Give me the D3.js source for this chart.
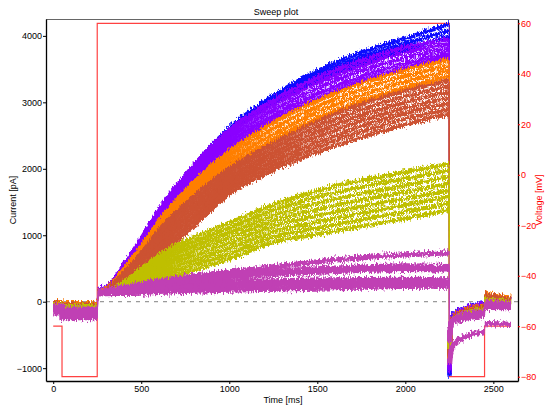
<!DOCTYPE html>
<html><head><meta charset="utf-8">
<script src="https://cdn.jsdelivr.net/npm/d3@7"></script>
<style>
body{margin:0;background:#fff}
svg{display:block}
text{font-family:"Liberation Sans",Arial,sans-serif}
</style>
</head><body>
<svg id="c" width="547" height="405"></svg>
<script>
// ---------- data ----------
const stepTimes = [255, 300, 350, 400, 500, 600, 750, 1000, 1250, 1500, 1750, 2000, 2250];
const preTimes  = [0, 50, 250];
const tailTimes = [2251, 2262, 2290, 2450];
const postTimes = [2452, 2475, 2600];
const protoTimes = [0, 50, 250, 2250, 2450, 2600];
const protoVolts = [-60, -80, 60, -80, -60, -60];
const currentTicks = [-1000, 0, 1000, 2000, 3000, 4000];
const voltTicks = [-80, -60, -40, -20, 0, 20, 40, 60];
const timeTicks = [0, 500, 1000, 1500, 2000, 2500];

const blueStep = [
  [190, 220, 345, 535, 925, 1355, 1885, 2610, 3100, 3470, 3750, 3960, 4180],
  [185, 215, 338, 522, 900, 1325, 1845, 2565, 3050, 3410, 3680, 3880, 4080],
  [180, 210, 330, 510, 878, 1295, 1805, 2520, 3000, 3350, 3610, 3800, 3990]];
const purpleStep = [
  [190, 222, 355, 552, 948, 1382, 1900, 2590, 3030, 3370, 3630, 3830, 3950],
  [186, 218, 348, 538, 922, 1348, 1852, 2522, 2955, 3290, 3550, 3750, 3880],
  [182, 214, 340, 524, 897, 1313, 1803, 2455, 2880, 3210, 3470, 3670, 3810],
  [178, 210, 333, 510, 872, 1278, 1754, 2388, 2805, 3130, 3390, 3590, 3740],
  [174, 206, 325, 496, 847, 1243, 1705, 2320, 2740, 3060, 3320, 3520, 3690]];
const orangeStep = [
  [170, 204, 320, 485, 828, 1212, 1665, 2260, 2690, 3020, 3280, 3480, 3640],
  [167, 200, 312, 470, 803, 1177, 1615, 2190, 2605, 2935, 3195, 3395, 3560],
  [164, 196, 304, 455, 778, 1142, 1565, 2120, 2520, 2850, 3110, 3310, 3480],
  [161, 192, 296, 440, 753, 1107, 1515, 2050, 2440, 2765, 3025, 3225, 3400]];
const brownStep = [
  [162, 192, 292, 432, 725, 1075, 1470, 2000, 2380, 2710, 2970, 3170, 3330],
  [160, 189, 282, 412, 685, 1012, 1397, 1937, 2312, 2632, 2887, 3087, 3240],
  [158, 186, 272, 392, 645, 950, 1323, 1873, 2245, 2555, 2805, 3003, 3155],
  [156, 182, 262, 372, 605, 888, 1250, 1810, 2180, 2478, 2722, 2920, 3070],
  [154, 178, 252, 352, 565, 826, 1175, 1746, 2112, 2400, 2640, 2838, 2985],
  [152, 175, 242, 332, 523, 763, 1100, 1683, 2046, 2325, 2557, 2753, 2900],
  [150, 172, 233, 313, 483, 702, 1025, 1620, 1980, 2250, 2475, 2665, 2830]];
const oliveStep = [
  [138, 157, 205, 290, 500, 695, 915, 1185, 1455, 1670, 1825, 1950, 2075],
  [136, 153, 198, 275, 466, 644, 848, 1108, 1375, 1576, 1726, 1850, 1976],
  [133, 150, 191, 261, 432, 592, 780, 1032, 1295, 1482, 1628, 1750, 1876],
  [131, 146, 184, 246, 398, 541, 712, 955, 1215, 1388, 1530, 1651, 1777],
  [129, 143, 176, 232, 364, 489, 645, 878, 1135, 1295, 1431, 1552, 1678],
  [127, 139, 169, 217, 330, 438, 577, 800, 1055, 1200, 1333, 1453, 1579],
  [124, 136, 162, 203, 296, 386, 509, 722, 975, 1107, 1234, 1354, 1479],
  [122, 132, 155, 188, 262, 335, 440, 645, 895, 1015, 1135, 1255, 1380]];
const magentaStep = [
  [160, 175, 195, 220, 270, 310, 370, 450, 525, 600, 660, 705, 735],
  [150, 165, 180, 205, 245, 285, 335, 400, 455, 495, 520, 540, 530],
  [145, 158, 172, 192, 230, 265, 310, 365, 410, 445, 470, 485, 480],
  [138, 150, 162, 178, 205, 230, 260, 295, 315, 325, 332, 336, 330],
  [130, 138, 145, 152, 170, 190, 215, 245, 262, 272, 280, 286, 280],
  [118, 122, 125, 126, 130, 140, 155, 175, 190, 205, 218, 230, 235]];

const bluePre = [[-15, -30], [-20, -35], [-20, -35]];
const purplePre = [[-15, -30], [-20, -35], [-25, -40], [-20, -38], [-25, -42]];
const orangePre = [[-5, -20], [-10, -25], [-10, -28], [-15, -30]];
const brownPre = [[-25, -45], [-25, -48], [-30, -50], [-30, -52], [-35, -55], [-35, -58], [-40, -60]];
const olivePre = [[-40, -65], [-45, -70], [-45, -72], [-50, -75], [-50, -78], [-55, -80], [-55, -82], [-60, -85]];
const magentaPre = [[-70, -110], [-90, -130], [-110, -160], [-130, -190], [-150, -215], [-170, -240]];

const blueTail = [[-1130, -230, -150, -20], [-1100, -240, -160, -30], [-1080, -245, -165, -35]];
const purpleTail = [[-1050, -240, -160, -30], [-1020, -245, -168, -40], [-1000, -250, -175, -45], [-980, -255, -180, -50], [-960, -260, -185, -55]];
const orangeTail = [[-900, -260, -185, -60], [-880, -265, -190, -65], [-860, -270, -195, -70], [-840, -275, -200, -75]];
const brownTail = [[-820, -270, -195, -70], [-800, -273, -200, -77], [-785, -276, -205, -84], [-770, -280, -210, -90], [-755, -283, -215, -97], [-740, -286, -220, -104], [-720, -290, -225, -110]];
const oliveTail = [[-700, -285, -220, -110], [-690, -287, -224, -115], [-675, -289, -228, -121], [-660, -291, -232, -127], [-645, -293, -236, -133], [-630, -295, -240, -139], [-615, -298, -245, -145], [-600, -300, -250, -150]];
const magentaTail = [[-940, -720, -600, -450], [-600, -290, -230, -140], [-560, -300, -245, -160], [-520, -310, -260, -175], [-480, -320, -275, -190], [-450, -330, -290, -205]];

const bluePost = [[110, 80, 40], [105, 75, 35], [100, 70, 30]];
const purplePost = [[120, 90, 45], [115, 85, 40], [110, 80, 35], [105, 75, 30], [100, 70, 25]];
const orangePost = [[145, 110, 60], [140, 105, 55], [135, 100, 50], [130, 95, 45]];
const brownPost = [[120, 90, 40], [110, 82, 32], [100, 75, 25], [90, 68, 18], [80, 60, 10], [70, 52, 2], [60, 45, -5]];
const olivePost = [[50, 30, -5], [45, 25, -10], [40, 20, -15], [35, 15, -20], [30, 10, -25], [25, 5, -30], [20, 0, -35], [15, -5, -40]];
const magentaPost = [[-330, -330, -340], [0, -10, -35], [-20, -30, -50], [-40, -48, -62], [-60, -65, -75], [-85, -85, -90]];

const groups = [
  {color: "#0c0cff", width: 4.2, pre: bluePre, step: blueStep, tail: blueTail, post: bluePost},
  {color: "#8a00ff", width: 4.2, pre: purplePre, step: purpleStep, tail: purpleTail, post: purplePost},
  {color: "#ff7f00", width: 4.2, pre: orangePre, step: orangeStep, tail: orangeTail, post: orangePost},
  {color: "#cc5232", width: 4.2, pre: brownPre, step: brownStep, tail: brownTail, post: brownPost},
  {color: "#bfbf00", width: 4.2, pre: olivePre, step: oliveStep, tail: oliveTail, post: olivePost},
  {color: "#c040b4", width: 5.2, pre: magentaPre, step: magentaStep, tail: magentaTail, post: magentaPost}
];

// ---------- layout ----------
const L = 46, R = 518, T = 19, B = 381;
const svg = d3.select("#c");
const x = d3.scaleLinear().domain([-41, 2640]).range([L, R]);
const y = d3.scaleLinear().domain([-1193, 4254]).range([B, T]);
const yv = d3.scaleLinear().domain([-81.7, 61.7]).range([B, T]);

const defs = svg.append("defs");
defs.append("clipPath").attr("id", "plot").append("rect")
  .attr("x", L).attr("y", T).attr("width", R - L).attr("height", B - T);
const f = defs.append("filter").attr("id", "noise").attr("filterUnits", "userSpaceOnUse")
  .attr("x", 0).attr("y", 0).attr("width", 547).attr("height", 405)
  .attr("color-interpolation-filters", "sRGB");
f.append("feTurbulence").attr("type", "fractalNoise").attr("baseFrequency", "0.85 0.28")
  .attr("numOctaves", 2).attr("seed", 7).attr("result", "t");
f.append("feColorMatrix").attr("in", "t").attr("type", "matrix")
  .attr("values", "1 0 0 0 0  0 0 0 0 0.5  0 0 0 0 0  0 0 0 0 1").attr("result", "m");
f.append("feDisplacementMap").attr("in", "SourceGraphic").attr("in2", "m")
  .attr("scale", 9).attr("xChannelSelector", "G").attr("yChannelSelector", "R");

const plot = svg.append("g").attr("clip-path", "url(#plot)");

// zero line
plot.append("line").attr("x1", L).attr("x2", R).attr("y1", y(0)).attr("y2", y(0))
  .attr("stroke", "#808080").attr("stroke-dasharray", "4,5").attr("stroke-width", 1);

// voltage protocol
const protoLine = d3.line().curve(d3.curveStepAfter).x(d => x(d[0])).y(d => yv(d[1]));
plot.append("path").attr("d", protoLine(protoTimes.map((t, i) => [t, protoVolts[i]])))
  .attr("fill", "none").attr("stroke", "#ff2020").attr("stroke-width", 1.2).attr("stroke-opacity", 0.85);

// sweeps
const lin = d3.line().x(d => x(d[0])).y(d => y(d[1]));
const mono = d3.line().curve(d3.curveMonotoneX).x(d => x(d[0])).y(d => y(d[1]));
const traces = plot.append("g").attr("filter", "url(#noise)");
groups.forEach(g => {
  g.step.forEach((vals, i) => {
    const pre = g.pre[i], tail = g.tail[i], post = g.post[i];
    const prePts = [[preTimes[0], pre[0]], [preTimes[1], pre[0]], [preTimes[1], pre[1]], [preTimes[2], pre[1]]];
    const stepPts = stepTimes.map((t, k) => [t, vals[k]]);
    const tailPts = tailTimes.map((t, k) => [t, tail[k]]);
    const postPts = postTimes.map((t, k) => [t, post[k]]);
    const thick = lin(prePts) + " " + mono(stepPts) + " " + mono(tailPts) + " " + lin(postPts);
    const jumps = lin([prePts[3], stepPts[0]]) + " " + lin([stepPts[stepPts.length - 1], tailPts[0]]) +
      " " + lin([tailPts[tailPts.length - 1], postPts[0]]);
    traces.append("path").attr("d", jumps).attr("fill", "none")
      .attr("stroke", g.color).attr("stroke-width", 0.8);
    traces.append("path").attr("d", thick).attr("fill", "none")
      .attr("stroke", g.color).attr("stroke-width", g.width).attr("stroke-linejoin", "round");
  });
});

// frame top
svg.append("line").attr("x1", L).attr("x2", R).attr("y1", T + 0.5).attr("y2", T + 0.5)
  .attr("stroke", "#666").attr("stroke-width", 1);

// axes
const fs = "9px";
const ax = svg.append("g").attr("transform", `translate(${L},0)`)
  .call(d3.axisLeft(y).tickValues(currentTicks).tickSize(3).tickSizeOuter(0).tickPadding(1).tickFormat(d3.format("d")));
ax.selectAll("text").attr("font-size", fs).attr("fill", "#000");
ax.select(".domain").attr("stroke", "#000").attr("stroke-width", 1.3);

const bx = svg.append("g").attr("transform", `translate(0,${B})`)
  .call(d3.axisBottom(x).tickValues(timeTicks).tickSize(3).tickSizeOuter(0).tickPadding(2).tickFormat(d3.format("d")));
bx.selectAll("text").attr("font-size", fs).attr("fill", "#000");
bx.select(".domain").attr("stroke", "#000").attr("stroke-width", 1.3);

const rx = svg.append("g").attr("transform", `translate(${R},0)`)
  .call(d3.axisRight(yv).tickValues(voltTicks).tickSize(2).tickSizeOuter(0).tickPadding(1).tickFormat(d3.format("d")));
rx.selectAll("text").attr("font-size", fs).attr("fill", "#f00");
rx.selectAll(".tick line").attr("stroke", "#f00");
rx.select(".domain").attr("stroke", "#000").attr("stroke-width", 1.3);

// titles
svg.append("text").attr("x", 276).attr("y", 15).attr("text-anchor", "middle")
  .attr("font-size", fs).text("Sweep plot");
svg.append("text").attr("x", 283).attr("y", 403).attr("text-anchor", "middle")
  .attr("font-size", fs).text("Time [ms]");
svg.append("text").attr("transform", "translate(16,200) rotate(-90)").attr("text-anchor", "middle")
  .attr("font-size", fs).text("Current [pA]");
svg.append("text").attr("transform", "translate(542,200) rotate(-90)").attr("text-anchor", "middle")
  .attr("font-size", fs).attr("fill", "#f00").text("Voltage [mV]");
</script>
</body></html>
